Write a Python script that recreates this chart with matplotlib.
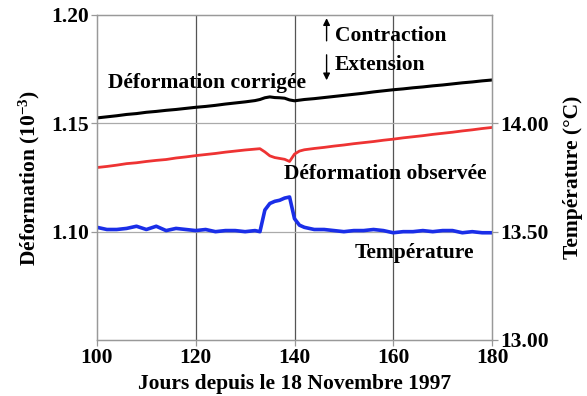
import matplotlib
matplotlib.use("Agg")
import matplotlib.pyplot as plt

plt.rcParams['font.family'] = ['Liberation Serif', 'DejaVu Serif']
plt.rcParams['font.weight'] = 'bold'
plt.rcParams['axes.labelweight'] = 'bold'
plt.rcParams['mathtext.fontset'] = 'custom'
plt.rcParams['mathtext.rm'] = 'Liberation Serif:bold'
plt.rcParams['mathtext.it'] = 'Liberation Serif:bold'
plt.rcParams['mathtext.bf'] = 'Liberation Serif:bold'

# jours depuis le 18 novembre 1997
jours = [100, 102, 104, 106, 108, 110, 112, 114, 116, 118, 120, 122, 124, 126, 128, 130, 132,
         133, 134, 135, 136, 137, 138, 139, 140, 141, 142,
         144, 146, 148, 150, 152, 154, 156, 158, 160, 162, 164, 166, 168, 170, 172, 174, 176, 178, 180]

def_corrigee = [1.1525, 1.1530, 1.1535, 1.1541, 1.1545, 1.1551, 1.1555, 1.1560, 1.1564, 1.1569,
                1.1574, 1.1578, 1.1583, 1.1589, 1.1594, 1.1599, 1.1605,
                1.1610, 1.1618, 1.1622, 1.1619, 1.1618, 1.1616, 1.1608, 1.1604, 1.1607, 1.1610,
                1.1614, 1.1619, 1.1624, 1.1629, 1.1634, 1.1639, 1.1645, 1.1650, 1.1655, 1.1659,
                1.1664, 1.1668, 1.1673, 1.1677, 1.1682, 1.1687, 1.1691, 1.1696, 1.1700]

def_observee = [1.1296, 1.1301, 1.1307, 1.1314, 1.1318, 1.1324, 1.1329, 1.1333, 1.1340, 1.1345,
                1.1351, 1.1356, 1.1361, 1.1367, 1.1372, 1.1377, 1.1381,
                1.1383, 1.1368, 1.1350, 1.1342, 1.1338, 1.1334, 1.1324, 1.1358, 1.1372, 1.1378,
                1.1384, 1.1389, 1.1395, 1.1400, 1.1406, 1.1411, 1.1416, 1.1422, 1.1427, 1.1433,
                1.1438, 1.1443, 1.1449, 1.1454, 1.1459, 1.1465, 1.1470, 1.1476, 1.1481]

temperature = [13.52, 13.51, 13.51, 13.515, 13.525, 13.51, 13.525, 13.505, 13.515, 13.51,
               13.505, 13.51, 13.50, 13.505, 13.505, 13.50, 13.505,
               13.50, 13.60, 13.63, 13.64, 13.645, 13.655, 13.66, 13.56, 13.53, 13.52,
               13.51, 13.51, 13.505, 13.50, 13.505, 13.505, 13.51, 13.505, 13.495, 13.50,
               13.50, 13.505, 13.50, 13.505, 13.505, 13.495, 13.50, 13.495, 13.495]

fs = 15.5

fig = plt.figure(figsize=(5.87, 3.96), dpi=100)
ax = fig.add_axes([97/587, 1-340/396, (492-97)/587, (340-15)/396])
ax2 = ax.twinx()

ax.set_xlim(100, 180)
ax.set_ylim(1.05, 1.20)
ax2.set_ylim(13.0, 14.5)

ax.set_xticks([100, 120, 140, 160, 180])
ax.set_yticks([1.10, 1.15, 1.20])
ax.set_yticklabels(['1.10', '1.15', '1.20'])
ax2.set_yticks([13.0, 13.5, 14.0])
ax2.set_yticklabels(['13.00', '13.50', '14.00'])

for x in [120, 140, 160]:
    ax.axvline(x, color='#555555', lw=0.9, zorder=0)
for y in [1.10, 1.15]:
    ax.axhline(y, color='#aaaaaa', lw=0.9, zorder=0)

for a in (ax, ax2):
    for s in a.spines.values():
        s.set_color('#999999')
        s.set_linewidth(0.9)
    a.tick_params(labelsize=fs, color='#999999', length=4, width=0.9, pad=2)

ax.plot(jours, def_corrigee, color='black', lw=2.2)
ax.plot(jours, def_observee, color='#ee3333', lw=2.0)
ax2.plot(jours, temperature, color='#1a2ee8', lw=2.6)

ax.text(102.2, 1.1685, 'Déformation corrigée', fontsize=fs, va='center', ha='left')
ax.text(148.2, 1.1903, 'Contraction', fontsize=fs, va='center', ha='left')
ax.text(148.2, 1.1769, 'Extension', fontsize=fs, va='center', ha='left')
ax.text(137.8, 1.1264, 'Déformation observée', fontsize=fs, va='center', ha='left')
ax.text(152.2, 1.0903, 'Température', fontsize=fs, va='center', ha='left')

ax.annotate('', xy=(146.5, 1.1998), xytext=(146.5, 1.1868),
            arrowprops=dict(arrowstyle='-|>', color='black', lw=1.0, mutation_scale=10))
ax.annotate('', xy=(146.5, 1.1686), xytext=(146.5, 1.1829),
            arrowprops=dict(arrowstyle='-|>', color='black', lw=1.0, mutation_scale=10))

ax.set_xlabel('Jours depuis le 18 Novembre 1997', fontsize=fs, labelpad=4)
ax.set_ylabel('Déformation (10$^{-3}$)', fontsize=fs, labelpad=6)
ax2.set_ylabel('Température (°C)', fontsize=fs, labelpad=10)

fig.savefig('out.png', dpi=100)
